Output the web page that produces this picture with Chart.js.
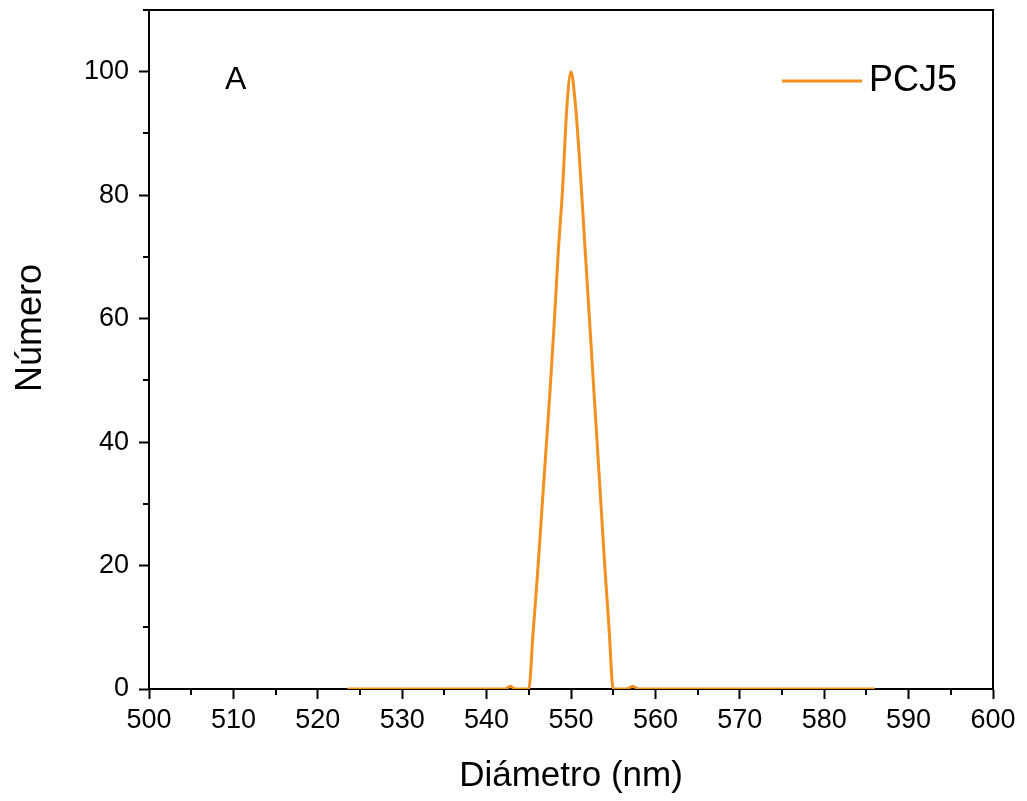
<!DOCTYPE html>
<html>
<head>
<meta charset="utf-8">
<script src="https://cdn.jsdelivr.net/npm/chart.js@4.4.1/dist/chart.umd.min.js"></script>
<style>
html,body{margin:0;padding:0;background:#fff;}
#wrap{width:1027px;height:801px;}
</style>
</head>
<body>
<div id="wrap"><canvas id="c" width="1027" height="801"></canvas></div>
<script>
// ---- data ----
const seriesLabel = 'PCJ5';
const panelLabel = 'A';
const xTitle = 'Diámetro (nm)';
const yTitle = 'Número';
const diameter = [523.5, 530, 535, 540, 542.2, 542.8, 543.4, 545,
  545.5, 546, 546.5, 547, 547.5, 548, 548.5, 549, 549.5, 550,
  550.5, 551, 551.5, 552, 552.5, 553, 553.5, 554, 554.5, 555,
  556.6, 557.3, 558, 560, 565, 570, 575, 580, 586];
const numero = [0, 0, 0, 0, 0, 0.45, 0, 0,
  9, 18, 28, 38, 48, 59, 71, 81, 94, 100,
  95, 86, 75, 64, 53, 42, 31, 20, 10, 0,
  0, 0.45, 0, 0, 0, 0, 0, 0, 0];
const xTicks = [500, 510, 520, 530, 540, 550, 560, 570, 580, 590, 600];
const xMinor = [505, 515, 525, 535, 545, 555, 565, 575, 585, 595];
const yTicks = [0, 20, 40, 60, 80, 100];
const yMinor = [10, 30, 50, 70, 90, 110];

const FONT = "'Liberation Sans', Arial, sans-serif";
const lineColor = '#f39020';

const points = diameter.map((d, i) => ({x: d, y: numero[i]}));

const decor = {
  id: 'decor',
  afterDraw(chart) {
    const ctx = chart.ctx, a = chart.chartArea;
    const xs = chart.scales.x, ys = chart.scales.y;
    ctx.save();
    // top & right frame
    ctx.strokeStyle = '#000';
    ctx.lineWidth = 2;
    ctx.beginPath();
    ctx.moveTo(a.left, a.top);
    ctx.lineTo(a.right, a.top);
    ctx.lineTo(a.right, a.bottom);
    ctx.stroke();
    // minor ticks
    ctx.beginPath();
    xMinor.forEach(v => {
      const p = Math.round(xs.getPixelForValue(v));
      ctx.moveTo(p, a.bottom);
      ctx.lineTo(p, a.bottom + 6);
    });
    yMinor.forEach(v => {
      const p = Math.round(ys.getPixelForValue(v));
      ctx.moveTo(a.left, p);
      ctx.lineTo(a.left - 6, p);
    });
    ctx.stroke();
    // panel label
    ctx.fillStyle = '#000';
    ctx.font = '32px ' + FONT;
    ctx.textBaseline = 'middle';
    ctx.textAlign = 'left';
    ctx.fillText(panelLabel, 225, 80);
    // legend
    const ds = chart.data.datasets[0];
    ctx.strokeStyle = ds.borderColor;
    ctx.lineWidth = 3;
    ctx.beginPath();
    ctx.moveTo(782, 81);
    ctx.lineTo(862, 81);
    ctx.stroke();
    ctx.font = '36px ' + FONT;
    ctx.fillText(ds.label, 869, 81);
    // y title
    ctx.translate(31, 328);
    ctx.rotate(-Math.PI / 2);
    ctx.textAlign = 'center';
    ctx.fillText(yTitle, 0, 0);
    ctx.restore();
  }
};

new Chart(document.getElementById('c'), {
  type: 'line',
  data: {
    datasets: [{
      label: seriesLabel,
      data: points,
      borderColor: lineColor,
      backgroundColor: lineColor,
      borderWidth: 3,
      pointRadius: 0,
      cubicInterpolationMode: 'monotone',
      fill: false
    }]
  },
  options: {
    responsive: false,
    animation: false,
    devicePixelRatio: 1,
    layout: {padding: {left: 0, top: 10, right: 34, bottom: 0}},
    plugins: {legend: {display: false}, tooltip: {enabled: false}},
    scales: {
      x: {
        type: 'linear', min: 500, max: 600,
        afterBuildTicks(s) { s.ticks = xTicks.map(v => ({value: v})); },
        afterFit(s) { s.height = 801 - 689; s.paddingLeft = 0; s.paddingRight = 0; },
        border: {display: true, color: '#000', width: 2},
        grid: {drawOnChartArea: false, drawTicks: true, tickLength: 10, tickColor: '#000', tickWidth: 2},
        ticks: {color: '#000', font: {family: FONT, size: 27}, padding: 5, maxRotation: 0,
                callback: v => String(v)},
        title: {display: true, text: xTitle, color: '#000', font: {family: FONT, size: 35}, padding: {top: 2}}
      },
      y: {
        type: 'linear', min: 0, max: 110,
        afterBuildTicks(s) { s.ticks = yTicks.map(v => ({value: v})); },
        afterFit(s) { s.width = 149; s.paddingTop = 0; s.paddingBottom = 0; },
        border: {display: true, color: '#000', width: 2},
        grid: {drawOnChartArea: false, drawTicks: true, tickLength: 10, tickColor: '#000', tickWidth: 2},
        ticks: {color: '#000', font: {family: FONT, size: 27}, padding: 10, callback: v => String(v)}
      }
    }
  },
  plugins: [decor]
});
</script>
</body>
</html>
